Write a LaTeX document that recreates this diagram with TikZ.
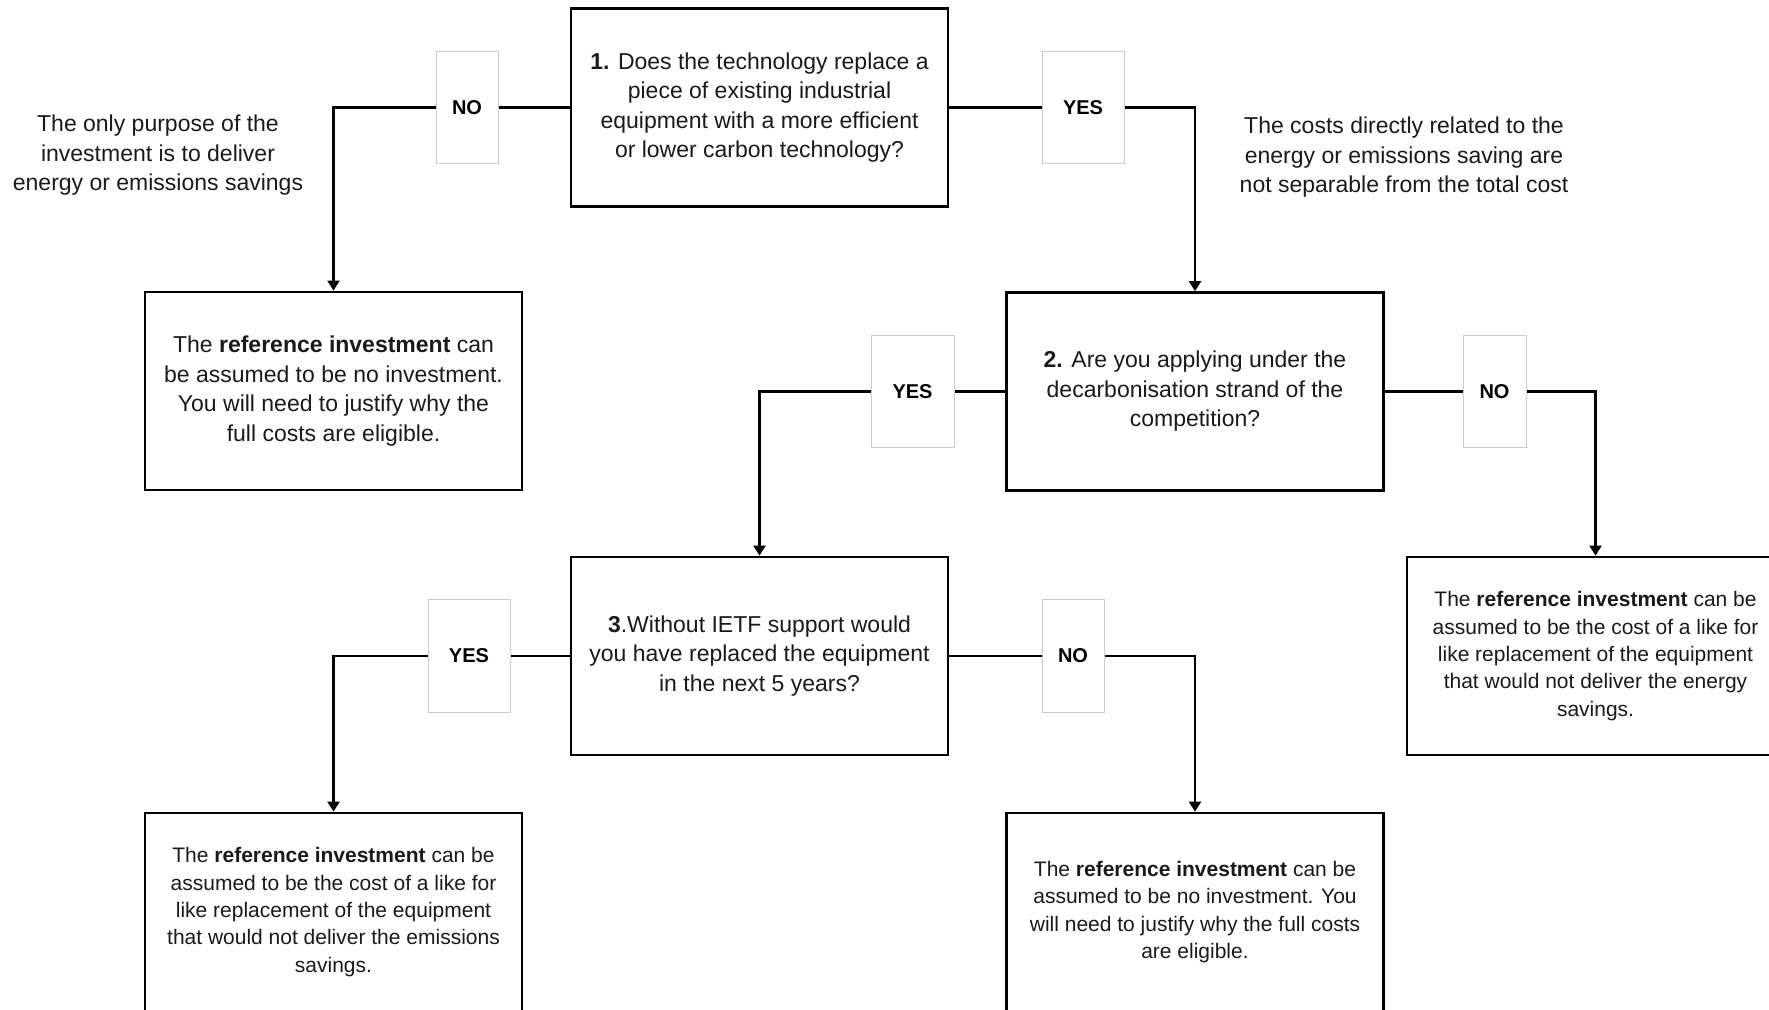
\documentclass[tikz,border=0pt]{standalone}
\usepackage{fontspec}
\setmainfont{Liberation Sans}
\usetikzlibrary{arrows.meta}
\definecolor{lblgray}{HTML}{CCCCCC}
\definecolor{txt}{HTML}{1A1A1A}
\tikzset{
  qbox/.style={draw=black, line width=2.8pt, fill=white, rectangle, align=center,
    minimum width=377pt, minimum height=198pt, inner sep=0pt, text=txt,
    font=\fontsize{23}{29.5}\selectfont},
  rbox/.style={qbox, font=\fontsize{21}{27.3}\selectfont},
  lbl/.style={draw=lblgray, line width=1pt, fill=white, rectangle, inner sep=0pt,
    text=black, font=\fontsize{20}{24}\selectfont\bfseries},
  side/.style={align=center, text=txt, inner sep=0pt, font=\fontsize{23}{29.5}\selectfont},
  conn/.style={draw=black, line width=2.3pt},
  arr/.style={conn, -{Triangle[width=12pt,length=10pt]}}
}
\begin{document}
\begin{tikzpicture}[x=1pt,y=-1pt]
\useasboundingbox (0,0) rectangle (1769,1009);
\fill[white] (0,0) rectangle (1769,1009);
\clip (0,0) rectangle (1769,1009);

% question boxes
\node[qbox] (q1) at (759.5,107.5) {\textbf{1.} Does the technology replace a\\ piece of existing industrial\\ equipment with a more efficient\\ or lower carbon technology?};
\node[qbox] (q2) at (1195,391.5) {\textbf{2.} Are you applying under the\\ decarbonisation strand of the\\ competition?};
\node[qbox] (q3) at (759.5,656) {\textbf{3}.Without IETF support would\\ you have replaced the equipment\\ in the next 5 years?};

% result boxes
\node[qbox] (ra) at (333.5,391) {The \textbf{reference investment} can\\ be assumed to be no investment.\\ You will need to justify why the\\ full costs are eligible.};
\node[rbox] (rb) at (1595.5,656) {The \textbf{reference investment} can be\\ assumed to be the cost of a like for\\ like replacement of the equipment\\ that would not deliver the energy\\ savings.};
\node[rbox] (rc) at (333.5,912) {The \textbf{reference investment} can be\\ assumed to be the cost of a like for\\ like replacement of the equipment\\ that would not deliver the emissions\\ savings.};
\node[rbox] (rd) at (1195,912) {The \textbf{reference investment} can be\\ assumed to be no investment. You\\ will need to justify why the full costs\\ are eligible.};

% side notes
\node[side] (nl) at (158,155.5) {The only purpose of the\\ investment is to deliver\\ energy or emissions savings};
\node[side] (nr) at (1404,157.5) {The costs directly related to the\\ energy or emissions saving are\\ not separable from the total cost};

% labels
\node[lbl, minimum width=62pt, minimum height=112pt] (no1) at (467,107.5) {NO};
\node[lbl, minimum width=82pt, minimum height=112pt] (yes1) at (1083,107.5) {YES};
\node[lbl, minimum width=83pt, minimum height=112pt] (yes2) at (912.5,391.5) {YES};
\node[lbl, minimum width=63pt, minimum height=112pt] (no2) at (1494.5,391.5) {NO};
\node[lbl, minimum width=82pt, minimum height=113pt] (yes3) at (469,656) {YES};
\node[lbl, minimum width=62pt, minimum height=113pt] (no3) at (1073,656) {NO};

% connectors
\draw[conn] (q1.west) -- (no1.east);
\draw[arr] (no1.west) -| (ra.north);
\draw[conn] (q1.east) -- (yes1.west);
\draw[arr] (yes1.east) -| (q2.north);
\draw[conn] (q2.west) -- (yes2.east);
\draw[arr] (yes2.west) -| (q3.north);
\draw[conn] (q2.east) -- (no2.west);
\draw[arr] (no2.east) -| (rb.north);
\draw[conn] (q3.west) -- (yes3.east);
\draw[arr] (yes3.west) -| (rc.north);
\draw[conn] (q3.east) -- (no3.west);
\draw[arr] (no3.east) -| (rd.north);
\end{tikzpicture}
\end{document}
